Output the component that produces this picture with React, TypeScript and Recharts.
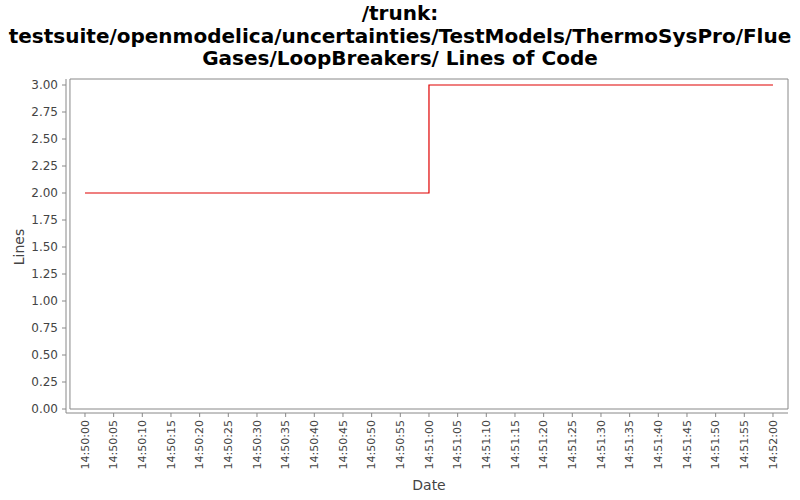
import React from "react";
import { LineChart, Line, XAxis, YAxis, ReferenceArea } from "recharts";

// seconds after 14:50:00
const times = [0, 60, 120];
const linesOfCode = [2, 3, 3];

const xTickValues = [0, 5, 10, 15, 20, 25, 30, 35, 40, 45, 50, 55, 60, 65, 70, 75, 80, 85, 90, 95, 100, 105, 110, 115, 120];
const xTickLabels = [
    "14:50:00", "14:50:05", "14:50:10", "14:50:15", "14:50:20", "14:50:25", "14:50:30",
    "14:50:35", "14:50:40", "14:50:45", "14:50:50", "14:50:55", "14:51:00", "14:51:05",
    "14:51:10", "14:51:15", "14:51:20", "14:51:25", "14:51:30", "14:51:35", "14:51:40",
    "14:51:45", "14:51:50", "14:51:55", "14:52:00",
];
const yTicks = [0, 0.25, 0.5, 0.75, 1, 1.25, 1.5, 1.75, 2, 2.25, 2.5, 2.75, 3];

const titleLines = [
    "/trunk:",
    "testsuite/openmodelica/uncertainties/TestModels/ThermoSysPro/Flue",
    "Gases/LoopBreakers/ Lines of Code",
];

const FONT = "'DejaVu Sans', sans-serif";

const chartData = times.map((t, i) => ({ t, v: linesOfCode[i] }));

const XTick = (props: any) => {
    const { x, y, payload } = props;
    const idx = xTickValues.indexOf(payload.value);
    return (
        <text
            x={x}
            y={y}
            dy="0.35em"
            textAnchor="end"
            transform={`rotate(-90 ${x} ${y})`}
            fill="#444"
            fontSize={11}
            fontFamily={FONT}
        >
            {xTickLabels[idx]}
        </text>
    );
};

export default function App() {
    return (
        <div style={{ position: "absolute", left: 0, top: 0, width: 800, height: 500, background: "#fff", fontFamily: FONT }}>
            <div
                style={{
                    position: "absolute",
                    left: 0,
                    top: 2,
                    width: 800,
                    textAlign: "center",
                    fontWeight: "bold",
                    fontSize: 20,
                    lineHeight: "22.5px",
                    color: "#000",
                    whiteSpace: "nowrap",
                }}
            >
                {titleLines.map((l) => (
                    <div key={l}>{l}</div>
                ))}
            </div>

            <LineChart
                width={800}
                height={500}
                data={chartData}
                margin={{ top: 79, right: 12, left: 0, bottom: 0 }}
                style={{ position: "absolute", left: 0, top: 0 }}
            >
                <ReferenceArea
                    x1={-2.62}
                    x2={122.62}
                    y1={0}
                    y2={3.0556}
                    fill="none"
                    stroke="#888"
                    strokeWidth={1}
                    ifOverflow="visible"
                />
                <XAxis
                    dataKey="t"
                    type="number"
                    domain={[-3.31, 122.62]}
                    allowDataOverflow
                    ticks={xTickValues}
                    interval={0}
                    height={87}
                    tickSize={4}
                    tickMargin={3}
                    stroke="#888"
                    tick={<XTick />}
                />
                <YAxis
                    type="number"
                    domain={[-0.037, 3.0556]}
                    allowDataOverflow
                    ticks={yTicks}
                    interval={0}
                    width={66}
                    tickSize={4}
                    tickMargin={4}
                    stroke="#888"
                    tickFormatter={(v) => v.toFixed(2)}
                    tick={{ fill: "#444", fontSize: 12, fontFamily: FONT }}
                />
                <Line
                    type="stepAfter"
                    dataKey="v"
                    stroke="#e00000"
                    strokeWidth={1.2}
                    dot={false}
                    activeDot={false}
                    isAnimationActive={false}
                />
            </LineChart>

            <div
                style={{
                    position: "absolute",
                    left: 19,
                    top: 247,
                    transform: "translate(-50%, -50%) rotate(-90deg)",
                    fontSize: 14,
                    color: "#444",
                    whiteSpace: "nowrap",
                }}
            >
                Lines
            </div>
            <div
                style={{
                    position: "absolute",
                    left: 429,
                    top: 485,
                    transform: "translate(-50%, -50%)",
                    fontSize: 14,
                    color: "#444",
                }}
            >
                Date
            </div>
        </div>
    );
}
